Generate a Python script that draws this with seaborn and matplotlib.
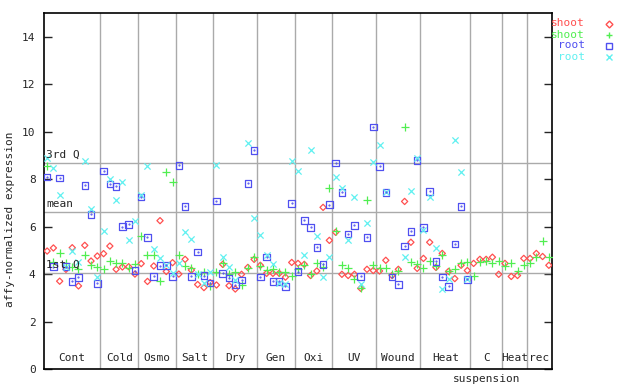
import numpy as np
import pandas as pd
import matplotlib
matplotlib.use("Agg")
import matplotlib.pyplot as plt
import seaborn as sns

nan = np.nan
groups = ["Cont", "Cold", "Osmo", "Salt", "Dry", "Gen", "Oxi", "UV", "Wound", "Heat", "C", "Heat", "rec"]
group_sizes = [9, 6, 6, 6, 7, 6, 6, 7, 7, 8, 5, 4, 4]

shoot_red = [4.97, 5.10, 3.70, 4.20, 5.11, 3.50, 5.21, 4.55, 4.76,
             4.86, 5.18, 4.20, 4.30, 4.31, 4.00,
             4.44, 3.69, 4.34, 6.25, 4.11, 4.48,
             4.00, 4.62, 4.17, 3.56, 3.43, 3.64,
             3.54, 4.41, 3.51, 3.37, 3.99, 4.28, 4.62,
             4.37, 4.03, 4.03, 4.03, 3.87, 4.49,
             4.45, 4.41, 3.94, 4.13, 6.81, 5.42,
             5.76, 3.99, 3.94, 3.99, 3.40, 4.20, 4.15,
             4.13, 4.58, 3.94, 4.20, 7.06, 5.34, 4.24,
             4.66, 5.34, 4.28, 4.87, 4.11, 3.81, 4.37, 4.15,
             4.45, 4.62, 4.62, 4.71, 3.99,
             4.45, 3.90, 3.94, 4.66,
             4.66, 4.87, 4.74, 4.37]
shoot_green = [8.55, 4.50, 4.87, 4.45, 4.30, 4.21, 4.79, 4.37, 4.31,
               4.21, 4.54, 4.45, 4.48, 4.24, 4.42,
               5.59, 4.79, 4.79, 3.69, 8.28, 7.86,
               4.79, 4.34, 4.24, 3.99, 4.10, 3.51,
               4.10, 4.45, 4.00, 4.07, 3.54, 4.24, 4.71,
               4.33, 4.18, 4.20, 4.10, 4.10, 3.90,
               4.20, 4.38, 3.99, 4.45, 4.30, 7.61,
               5.80, 4.37, 4.24, 3.78, 3.40, 7.10, 4.37,
               4.24, 4.24, 3.99, 4.11, 10.19, 4.49, 4.41,
               4.24, 4.53, 4.33, 4.79, 4.11, 4.20, 4.45, 4.49,
               3.90, 4.49, 4.53, 4.45, 4.53,
               4.33, 4.45, 4.15, 4.37,
               4.45, 4.71, 5.38, 4.71]
root_blue = [8.08, 4.31, 8.04, 4.31, 3.69, 3.86, 7.74, 6.52, 3.61,
             8.34, 7.80, 7.70, 6.00, 6.09, 4.15,
             7.25, 5.55, 3.90, 4.36, 4.37, 3.90,
             8.58, 6.85, 3.90, 4.92, 3.93, 3.62,
             7.08, 4.03, 3.83, 3.53, 3.75, 7.82, 9.21,
             3.87, 4.72, 3.69, 3.69, 3.48, 6.98,
             4.10, 6.26, 5.97, 5.13, 4.41, 6.93,
             8.67, 7.44, 5.68, 6.05, 3.90, 5.55, 10.19,
             8.54, 7.44, 3.87, 3.57, 5.18, 5.80, 8.79,
             5.97, 7.48, 4.53, 3.87, 3.48, 5.26, 6.85, 3.78,
             nan, nan, nan, nan, nan,
             nan, nan, nan, nan,
             nan, nan, nan, nan]
root_cyan = [8.87, 8.45, 7.32, 4.30, 4.99, 4.52, 8.77, 6.76, 3.86,
             5.82, 8.00, 7.12, 7.87, 5.44, 6.24,
             7.32, 8.55, 5.06, 4.68, 4.40, 4.05,
             4.48, 5.76, 5.48, 4.00, 3.61, 4.07,
             8.60, 4.71, 4.28, 3.75, nan, 9.51, 6.35,
             5.64, 4.79, 4.41, 3.61, 3.60, 8.75,
             8.33, 4.79, 9.21, 5.60, 3.87, 4.74,
             8.07, 7.61, 5.42, 7.23, 3.57, 6.14, 8.71,
             9.42, 7.44, nan, nan, 4.74, 7.52, 8.89,
             5.84, 7.23, 5.08, 3.36, 3.78, 9.65, 8.29, 3.80,
             nan, nan, nan, nan, nan,
             nan, nan, nan, nan,
             nan, nan, nan, nan]

q1, mean_v, q3 = 4.05, 6.62, 8.69
yticks = [0, 2, 4, 6, 8, 10, 12, 14]

W, H = 640, 384
sns.set_style("white")
plt.rcParams['font.family'] = ['DejaVu Sans Mono']
fig = plt.figure(figsize=(W / 100, H / 100), dpi=100)
L, R, T, B = 44, 552, 13, 369
ax = fig.add_axes([L / W, 1 - B / H, (R - L) / W, (B - T) / H])

n = len(shoot_red)
xs = np.arange(n) + 0.5
series = [
    ("shoot", shoot_red, "#ff5050", "D", 10, dict(facecolor="none", linewidth=0.9)),
    ("shoot ", shoot_green, "#50ee50", "+", 30, dict(linewidth=0.9)),
    ("root", root_blue, "#5050f0", "s", 22, dict(facecolor="none", linewidth=0.9)),
    ("root ", root_cyan, "#60f0f0", "x", 20, dict(linewidth=0.9)),
]
for name, vals, col, mk, sz, kw in series:
    df = pd.DataFrame({"x": xs, "y": vals})
    sns.scatterplot(data=df, x="x", y="y", ax=ax, marker=mk, s=sz,
                    color=col, edgecolor=col, legend=False, zorder=3, **kw)
    if mk == "s":
        ax.scatter(xs, vals, marker=".", s=1.2, color=col, zorder=4)

ax.set_xlim(0, n)
ax.set_ylim(0, 15)
bounds = np.cumsum(group_sizes)
for b in bounds[:-1]:
    ax.axvline(b, color="#aaaaaa", lw=1.0, zorder=1)
for yv in (q1, mean_v, q3):
    ax.axhline(yv, color="#aaaaaa", lw=1.0, zorder=1)
ax.text(0.3, q3 + 0.12, "3rd Q", fontsize=8, va="bottom", ha="left", zorder=5)
ax.text(0.3, mean_v + 0.12, "mean", fontsize=8, va="bottom", ha="left", zorder=5)
ax.text(0.3, q1 + 0.12, "1st Q", fontsize=8, va="bottom", ha="left", zorder=5)

starts = np.concatenate([[0], bounds[:-1]])
for g, s0, s1 in zip(groups, starts, bounds):
    ax.text((s0 + s1) / 2, 0.25, g, fontsize=8, ha="center", va="bottom")
c_idx = groups.index("C")
ax.text((starts[c_idx] + bounds[c_idx]) / 2, -0.2, "suspension", fontsize=8,
        ha="center", va="top", clip_on=False)

ax.set_yticks(yticks)
ax.set_yticklabels([str(v) for v in yticks], fontsize=8)
ax.set_xticks([])
ax.tick_params(axis="y", direction="in", length=6, width=1, right=True, left=True, pad=6)
for sp in ax.spines.values():
    sp.set_color("black")
    sp.set_linewidth(1.2)
ax.set_xlabel("")
ax.set_ylabel("")
fig.text(10 / W, 1 - 219 / H, "affy-normalized expression", rotation=90,
         fontsize=8, ha="center", va="center")

leg_y = [23.5, 34.5, 45.5, 56.5]
for (name, vals, col, mk, sz, kw), yy in zip(series, leg_y):
    fig.text(585 / W, 1 - yy / H, name.strip(), color=col, fontsize=8,
             ha="right", va="center")
    fig.add_artist(plt.Line2D([609 / W], [1 - yy / H], marker=mk, color=col,
                              markerfacecolor="none", markersize=3.5 if mk == "D" else 5,
                              linestyle="none", transform=fig.transFigure))

fig.savefig("out.png", dpi=100)
